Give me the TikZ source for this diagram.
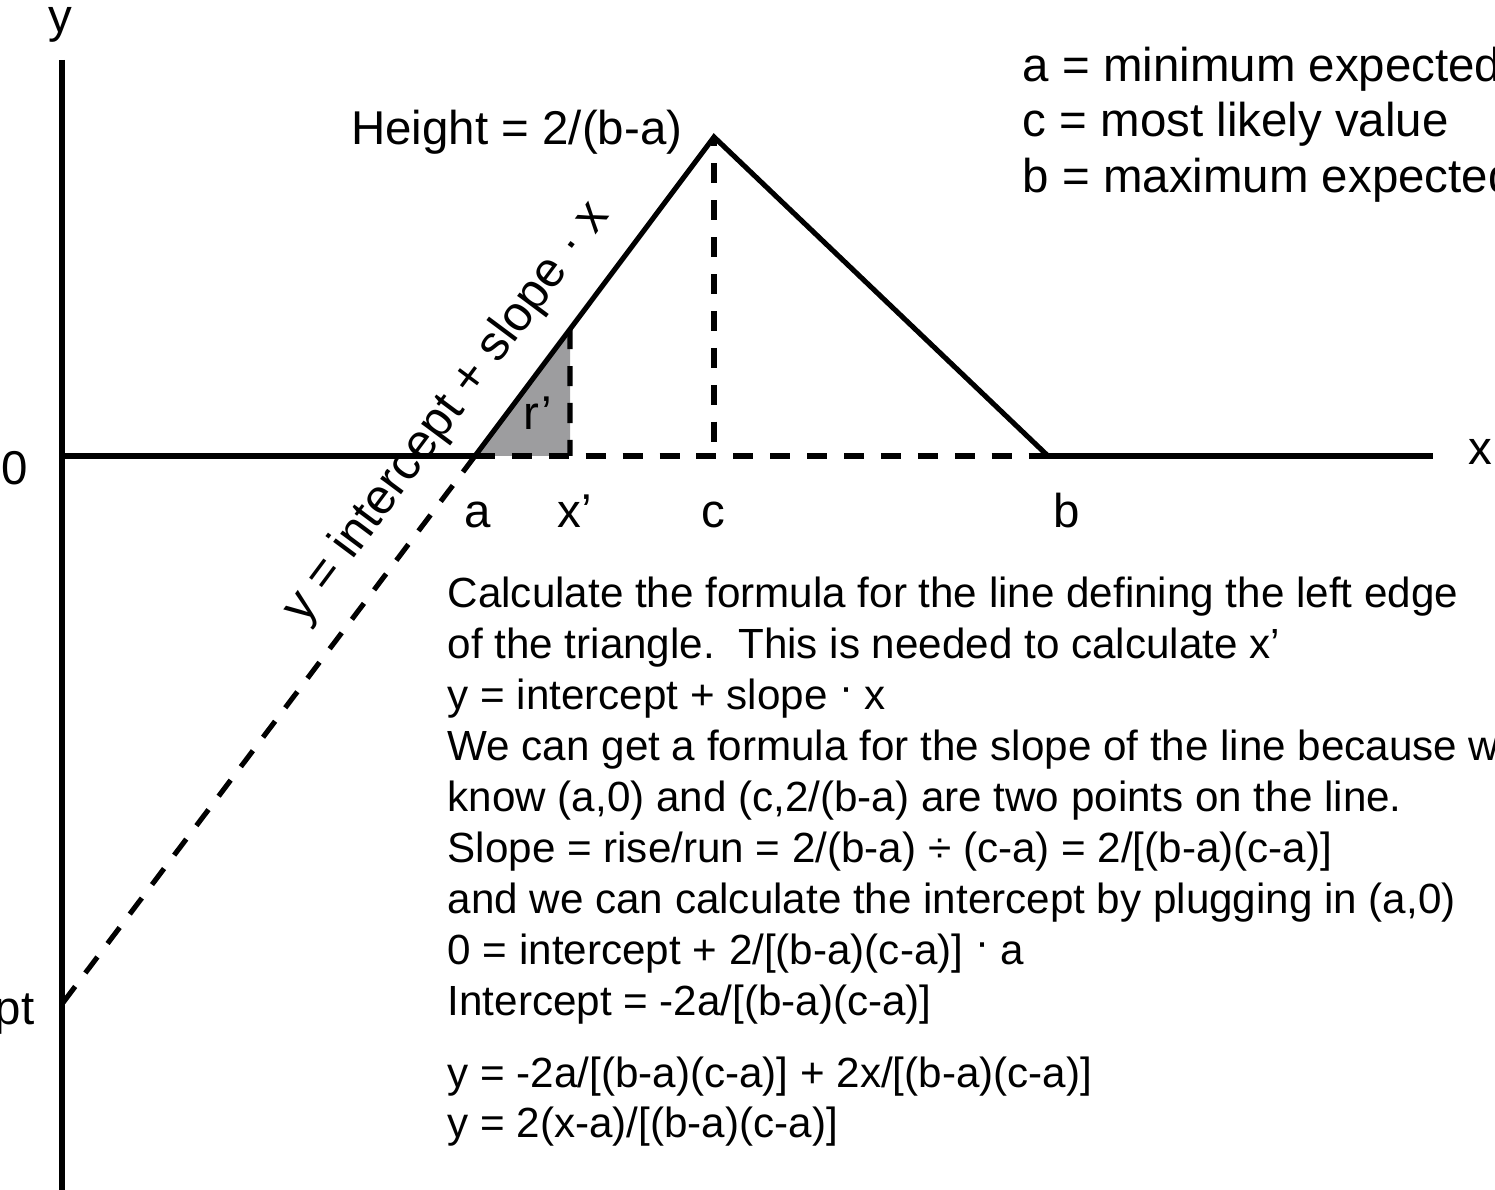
\documentclass[tikz,border=0pt]{standalone}
\usepackage{fontspec}
\setmainfont{Liberation Sans}
\usetikzlibrary{calc}
\definecolor{shadegray}{RGB}{157,157,159}
\newcommand{\rdot}{\raisebox{0.2em}{·}}
\tikzset{
    axisline/.style={line width=1.45pt},
    dashline/.style={line width=1.45pt, dash pattern=on 5.7pt off 4.8pt},
    lbl/.style={font=\fontsize{13.5}{16}\selectfont, inner sep=0pt},
    body/.style={font=\fontsize{12}{14.5}\selectfont, inner sep=0pt, anchor=base west}
}

\begin{document}
\begin{tikzpicture}
        \useasboundingbox (-0.62,-7.34) rectangle (14.33,4.56);
        % Points
            \coordinate (o) at (0,0);
            \coordinate (ytop) at (0,3.96);
            \coordinate (ybot) at (0,-7.34);
            \coordinate (xend) at (13.71,0);
            \coordinate (a) at (4.13,0);
            \coordinate (c) at (6.52,3.19);
            \coordinate (cfoot) at (6.52,0);
            \coordinate (b) at (9.86,0);
            \coordinate (xp) at (5.08,0);
            \coordinate (xptop) at ($(a)!0.3975!(c)$);
            \coordinate (icpt) at (0,-5.48);
        % Shaded area
            \fill[shadegray] (a) -- (xptop) -- (xp) -- cycle;
        % Axes
            \draw[axisline] (ytop) -- (ybot);
            \draw[axisline] (o) -- (a);
            \draw[axisline] (b) -- (xend);
            \draw[dashline] (a) -- (b);
        % Triangle
            \draw[axisline, line join=miter] (a) -- (c) -- (b);
            \draw[dashline, dash phase=3pt] (c) -- (cfoot);
            \draw[dashline] (xptop) -- (xp);
            \draw[dashline] (a) -- (icpt);
        % Axis labels
            \node[lbl, anchor=base] (ylbl) at (-0.02,4.23) {y};
            \node[lbl] (xlbl) at (14.18,0.04) {x};
            \node[lbl] (zero) at (-0.47,-0.12) {0};
            \node[lbl, anchor=east] (iclbl) at (-0.27,-5.56) {intercept};
            \node[lbl, anchor=base] (albl) at (4.16,-0.72) {a};
            \node[lbl, anchor=base] (xplbl) at (5.13,-0.72) {x’};
            \node[lbl, anchor=base] (clbl) at (6.51,-0.72) {c};
            \node[lbl, anchor=base] (blbl) at (10.05,-0.72) {b};
            \node[lbl, anchor=base] (rlbl) at (4.76,0.26) {r’};
            \node[lbl, anchor=base east] (hgt) at (6.21,3.11) {Height = 2/(b-a)};
            \node[lbl, font=\fontsize{14}{16}\selectfont, rotate=53.3] (eqlbl) at (3.85,0.43) {y = intercept + slope · x};
        % Key
            \node[lbl, anchor=base west] (keya) at (9.60,3.74) {a = minimum expected value};
            \node[lbl, anchor=base west] (keyc) at (9.60,3.19) {c = most likely value};
            \node[lbl, anchor=base west] (keyb) at (9.60,2.63) {b = maximum expected value};
        % Working
            \foreach \txt [count=\i] in {
                {Calculate the formula for the line defining the left edge},
                {of the triangle.\ \ This is needed to calculate x’},
                {y = intercept + slope \rdot{} x},
                {We can get a formula for the slope of the line because we},
                {know (a,0) and (c,2/(b-a) are two points on the line.},
                {Slope = rise/run = 2/(b-a) ÷ (c-a) = 2/[(b-a)(c-a)]},
                {and we can calculate the intercept by plugging in (a,0)},
                {0 = intercept + 2/[(b-a)(c-a)] \rdot{} a},
                {Intercept = -2a/[(b-a)(c-a)]}}
                \node[body] (line\i) at (3.85,{-1.52-0.51*(\i-1)}) {\txt};
            \node[body] (res1) at (3.85,-6.32) {y = -2a/[(b-a)(c-a)] + 2x/[(b-a)(c-a)]};
            \node[body] (res2) at (3.85,-6.82) {y = 2(x-a)/[(b-a)(c-a)]};
    \end{tikzpicture}
\end{document}
